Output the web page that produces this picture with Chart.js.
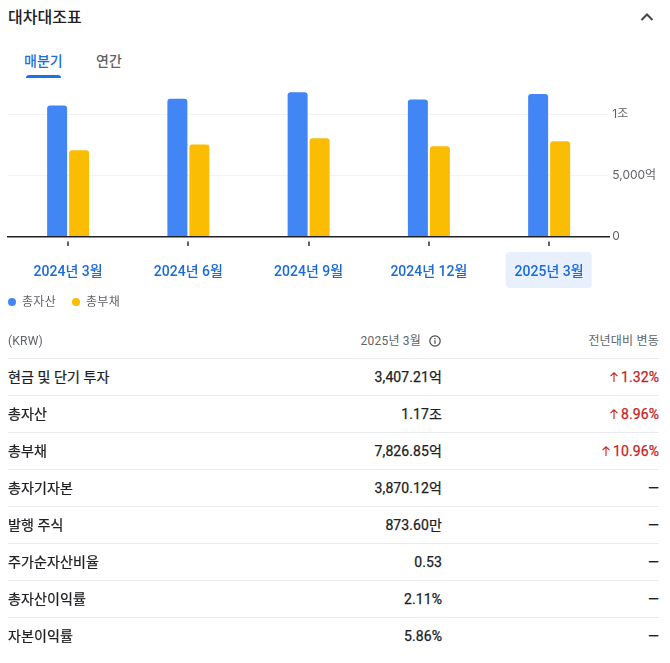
<!DOCTYPE html>
<html lang="ko">
<head>
<meta charset="utf-8">
<title>대차대조표</title>
<script src="https://cdn.jsdelivr.net/npm/chart.js@4/dist/chart.umd.min.js"></script>
<style>
  * { box-sizing: border-box; }
  html, body { margin: 0; padding: 0; background: #fff; }
  body { width: 670px; height: 663px; overflow: hidden; position: relative;
    font-family: Roboto, "Noto Sans CJK KR", sans-serif; color: #202124; }
  .title { position: absolute; left: 8px; top: 7px; font-size: 16px; line-height: 22px; font-weight: 500; }
  .chevron { position: absolute; left: 639px; top: 9px; }
  .tab { position: absolute; top: 51px; font-size: 14px; line-height: 20px; font-weight: 500; color: #5f6368; }
  .tab.on { left: 24px; color: #1a6fdc; }
  .tab.off { left: 96px; }
  .tabline { position: absolute; left: 26px; top: 75px; width: 35px; height: 3px; background: #1a73e8; border-radius: 3px 3px 0 0; }
  #wrap { position: absolute; left: 0; top: 74px; width: 670px; height: 222px; }
  #balanceChart { display: block; }
  .legend { position: absolute; top: 294px; font-size: 12px; line-height: 16px; color: #5f6368; letter-spacing: .3px; white-space: nowrap; padding-left: 14px; }
  .legend i { position: absolute; left: 0; top: 4px; width: 8px; height: 8px; border-radius: 50%; }
  .head { position: absolute; font-size: 12px; line-height: 16px; top: 333px; color: #5f6368; letter-spacing: .2px; white-space: nowrap; }
  .info { position: absolute; left: 429px; top: 335px; }
  .row { position: absolute; left: 8px; width: 651px; height: 37px; border-top: 1px solid #e8eaed; font-size: 14px; line-height: 36px; font-weight: 400; letter-spacing: .1px; -webkit-text-stroke: .25px currentColor; }
  .row span { position: absolute; top: 0; white-space: nowrap; }
  .row .name { left: 0; }
  .row .val { right: 217px; }
  .row .chg { right: 0; }
  .up { color: #c5221f; }
</style>
</head>
<body>
<div class="title">대차대조표</div>
<svg class="chevron" width="16" height="16" viewBox="0 0 16 16"><path d="M2.5 11 L8 5.5 L13.5 11" fill="none" stroke="#444746" stroke-width="2"/></svg>
<div class="tab on">매분기</div>
<div class="tab off">연간</div>
<div class="tabline"></div>

<div id="wrap"><canvas id="balanceChart"></canvas></div>
<div id="legend"></div>

<div class="head" style="left:8px">(KRW)</div>
<div class="head" style="right:249px">2025년 3월</div>
<svg class="info" width="12" height="12" viewBox="0 0 12 12"><circle cx="6" cy="6" r="5.2" fill="none" stroke="#444746" stroke-width="1.2"/><rect x="5.4" y="5.2" width="1.2" height="3.6" fill="#444746"/><rect x="5.4" y="3" width="1.2" height="1.3" fill="#444746"/></svg>
<div class="head" style="right:11px">전년대비 변동</div>
<div id="rows"></div>

<script>
const categories = ['2024년 3월', '2024년 6월', '2024년 9월', '2024년 12월', '2025년 3월'];
const totalAssets = [10760, 11310, 11830, 11250, 11700];
const totalLiabilities = [7070, 7560, 8060, 7400, 7827];
const yTicks = [0, 5000, 10000];
const yTickLabels = ['0', '5,000억', '1조'];
const seriesNames = ['총자산', '총부채'];
const seriesColors = ['#4285f4', '#fbbc04'];

const rowNames = ['현금 및 단기 투자', '총자산', '총부채', '총자기자본', '발행 주식', '주가순자산비율', '총자산이익률', '자본이익률'];
const rowValues = ['3,407.21억', '1.17조', '7,826.85억', '3,870.12억', '873.60만', '0.53', '2.11%', '5.86%'];
const rowChanges = ['1.32%', '8.96%', '10.96%', '—', '—', '—', '—', '—'];

// legend sits hard against the left edge, so it is plain html
const legendEl = document.getElementById('legend');
seriesNames.forEach((name, i) => {
  const item = document.createElement('div');
  item.className = 'legend';
  item.style.left = (8 + i * 64) + 'px';
  item.innerHTML = '<i style="background:' + seriesColors[i] + '"></i>' + name;
  legendEl.appendChild(item);
});

// table under the chart
const rowsEl = document.getElementById('rows');
rowNames.forEach((name, i) => {
  const row = document.createElement('div');
  row.className = 'row';
  row.style.top = (358 + i * 37) + 'px';
  const chg = rowChanges[i];
  const chgHtml = chg === '—' ? '<span class="chg">—</span>'
    : '<span class="chg up"><svg width="12" height="12" viewBox="0 0 12 12" style="vertical-align:-1px;margin-right:1px"><path d="M6 11 V2 M2.5 5.2 L6 1.8 L9.5 5.2" fill="none" stroke="#c5221f" stroke-width="1.1"/></svg>' + chg + '</span>';
  row.innerHTML = '<span class="name">' + name + '</span><span class="val">' + rowValues[i] + '</span>' + chgHtml;
  rowsEl.appendChild(row);
});

// highlight box behind the selected quarter and the small ticks under the axis
const axisMarks = {
  id: 'axisMarks',
  beforeDraw(chart) {
    const x = chart.scales.x, ctx = chart.ctx;
    const cx = x.getPixelForTick(categories.length - 1);
    ctx.save();
    ctx.fillStyle = '#e8f0fe';
    ctx.beginPath();
    ctx.roundRect(cx - 43.5, chart.chartArea.bottom + 15.5, 86, 36, 4);
    ctx.fill();
    ctx.restore();
  },
  afterDraw(chart) {
    const x = chart.scales.x, ctx = chart.ctx;
    ctx.save();
    ctx.fillStyle = '#5f6368';
    categories.forEach((c, i) => {
      ctx.fillRect(Math.round(x.getPixelForTick(i)) - 1, chart.chartArea.bottom + 5, 2, 4.5);
    });
    ctx.restore();
  }
};

new Chart(document.getElementById('balanceChart'), {
  type: 'bar',
  data: {
    labels: categories,
    datasets: [
      { label: seriesNames[0], data: totalAssets, backgroundColor: seriesColors[0] },
      { label: seriesNames[1], data: totalLiabilities, backgroundColor: seriesColors[1] }
    ]
  },
  options: {
    responsive: true,
    maintainAspectRatio: false,
    animation: false,
    devicePixelRatio: 1,
    layout: { padding: { left: 8, top: 0, right: 0, bottom: 0 } },
    categoryPercentage: 0.3657,
    barPercentage: 0.909,
    elements: { bar: { borderRadius: { topLeft: 3, topRight: 3, bottomLeft: 0, bottomRight: 0 }, borderSkipped: false } },
    plugins: {
      tooltip: { enabled: false },
      legend: { display: false }
    },
    scales: {
      x: {
        afterFit(s) { s.height = 59.5; },
        grid: { display: false },
        border: { color: '#202124', width: 1.5 },
        ticks: {
          autoSkip: false,
          maxRotation: 0,
          padding: 20,
          color: '#1a6ad8',
          font: { family: 'Roboto, "Noto Sans CJK KR"', size: 14, weight: '500' }
        }
      },
      y: {
        position: 'right',
        min: 0,
        max: 12500,
        afterFit(s) { s.width = 60.75; },
        afterBuildTicks(s) { s.ticks = yTicks.map(v => ({ value: v })); },
        grid: { color: '#f1f3f4', drawTicks: false },
        border: { display: false },
        ticks: {
          padding: 3,
          color: '#5f6368',
          font: { family: 'Inter, "Noto Sans CJK KR"', size: 12 },
          callback: (v) => yTickLabels[yTicks.indexOf(v)]
        }
      }
    }
  },
  plugins: [axisMarks]
});
</script>
</body>
</html>
